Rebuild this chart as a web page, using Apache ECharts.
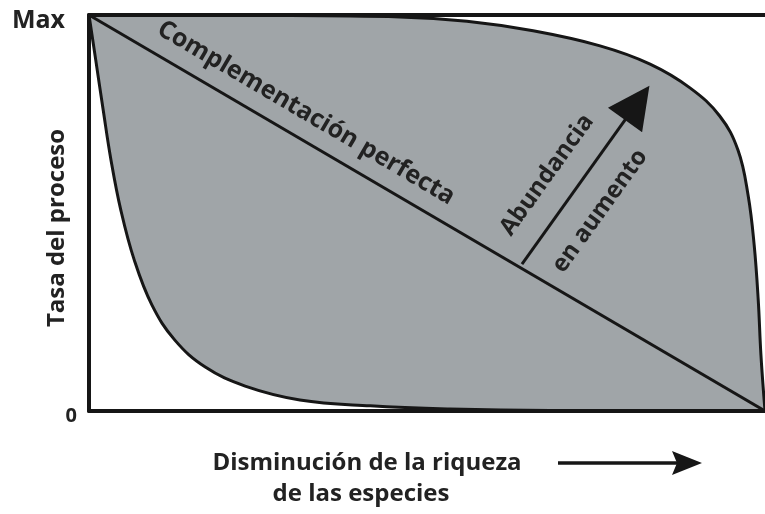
<!DOCTYPE html>
<html>
<head>
<meta charset="utf-8">
<script src="https://cdn.jsdelivr.net/npm/echarts@6/dist/echarts.min.js"></script>
<style>
  html, body { margin: 0; padding: 0; background: #fff; }
  #main { width: 765px; height: 514px; }
</style>
</head>
<body>
<div id="main"></div>
<script>
// curves, x = loss of species richness (0..100), y = process rate (0..100)
var upperCurve = [
    [0, 100], [23.8, 99.9], [46, 99.5], [55.9, 98.4], [65.7, 96.0], [75.6, 92.2],
    [83.0, 87.6], [88.9, 81.6], [93.3, 74.5], [96.0, 65.9], [97.5, 54.5],
    [98.4, 41.9], [99.0, 28.0], [99.4, 14.1], [100, 0]
];
var lowerCurve = [
    [0, 100], [1.0, 88.6], [2.1, 76.0], [3.25, 63.4], [4.7, 50.8], [6.7, 38.1],
    [9.3, 26.8], [12.7, 17.9], [17.2, 11.1], [23.1, 6.3], [31.2, 2.8],
    [41.6, 1.3], [53.4, 0.5], [68.2, 0.1], [100, 0]
];
var perfectLine = [[0, 100], [100, 0]];
var abundanceArrow = [[64.05, 37.1], [81.1, 77.8]];
var yTicks = { 0: '{z|0}', 100: '{m|Max}' };

var ink = '#161616';
var fontFam = '"Open Sans", sans-serif';

var myChart = echarts.init(document.getElementById('main'));

function baseX(pos) {
    return {
        type: 'value',
        position: pos,
        min: 0,
        max: 100,
        z: 10,
        axisLine: { show: true, onZero: false, lineStyle: { color: ink, width: 4 } },
        axisTick: { show: false },
        axisLabel: { show: false },
        splitLine: { show: false }
    };
}

var option = {
    animation: false,
    backgroundColor: '#fff',
    grid: { left: 89, right: 0, top: 15, bottom: 103 },
    xAxis: [baseX('bottom'), baseX('top')],
    yAxis: {
        type: 'value',
        min: 0,
        max: 100,
        interval: 100,
        z: 10,
        axisLine: { show: true, lineStyle: { color: ink, width: 4 } },
        axisTick: { show: false },
        splitLine: { show: false },
        axisLabel: {
            margin: 12,
            formatter: function (v) { return yTicks[v] || ''; },
            rich: {
                m: { fontFamily: fontFam, fontSize: 25, fontWeight: 'bold', color: '#222', padding: [12, 12, 0, 0] },
                z: { fontFamily: fontFam, fontSize: 20, fontWeight: 'bold', color: '#222', padding: [10, 0, 0, 0] }
            }
        }
    },
    series: [
        {
            // grey envelope, upper bound
            type: 'line',
            data: upperCurve,
            smooth: 0.4,
            symbol: 'none',
            lineStyle: { color: ink, width: 3 },
            areaStyle: { color: '#a0a5a8', opacity: 1 },
            z: 2
        },
        {
            // lower bound, white underneath
            type: 'line',
            data: lowerCurve,
            smooth: 0.4,
            symbol: 'none',
            lineStyle: { color: ink, width: 3 },
            areaStyle: { color: '#fff', opacity: 1 },
            z: 3
        },
        {
            type: 'line',
            data: perfectLine,
            symbol: 'none',
            lineStyle: { color: ink, width: 3 },
            z: 4
        },
        {
            type: 'lines',
            coordinateSystem: 'cartesian2d',
            symbol: ['none', 'triangle'],
            symbolSize: 42,
            lineStyle: { color: ink, width: 3, opacity: 1 },
            itemStyle: { color: ink },
            data: [{ coords: abundanceArrow }],
            z: 5
        }
    ],
    graphic: [
        {
            type: 'text', x: 57, y: 228, rotation: Math.PI / 2,
            style: { text: 'Tasa del proceso', fontFamily: fontFam, fontSize: 24, fontWeight: 'bold', fill: '#222', align: 'center', verticalAlign: 'middle' }
        },
        {
            type: 'text', x: 306, y: 113, rotation: -0.53, z: 20,
            style: { text: 'Complementación perfecta', fontFamily: fontFam, fontSize: 25, fontWeight: 'bold', fill: '#222', align: 'center', verticalAlign: 'middle' }
        },
        {
            type: 'text', x: 547, y: 175, rotation: 0.949, z: 20,
            style: { text: 'Abundancia', fontFamily: fontFam, fontSize: 24, fontWeight: 'bold', fill: '#222', align: 'center', verticalAlign: 'middle' }
        },
        {
            type: 'text', x: 600, y: 211, rotation: 0.949, z: 20,
            style: { text: 'en aumento', fontFamily: fontFam, fontSize: 24, fontWeight: 'bold', fill: '#222', align: 'center', verticalAlign: 'middle' }
        },
        {
            type: 'text', x: 367, y: 463,
            style: { text: 'Disminución de la riqueza', fontFamily: fontFam, fontSize: 24, fontWeight: 'bold', fill: '#222', align: 'center', verticalAlign: 'middle' }
        },
        {
            type: 'text', x: 361, y: 494,
            style: { text: 'de las especies', fontFamily: fontFam, fontSize: 24, fontWeight: 'bold', fill: '#222', align: 'center', verticalAlign: 'middle' }
        },
        {
            type: 'line',
            shape: { x1: 558, y1: 463, x2: 680, y2: 463 },
            style: { stroke: ink, lineWidth: 3.5 }
        },
        {
            type: 'polygon',
            shape: { points: [[672, 451], [702, 463], [672, 475], [677, 463]] },
            style: { fill: ink }
        }
    ]
};
myChart.setOption(option);
</script>
</body>
</html>
